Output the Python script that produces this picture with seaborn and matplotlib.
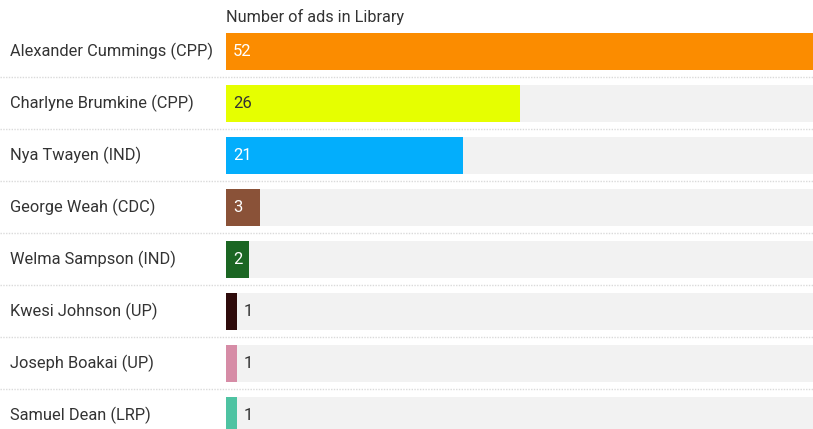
import numpy as np
import pandas as pd
import matplotlib
matplotlib.use('Agg')
import matplotlib.pyplot as plt
import seaborn as sns

# --------------------------------------------------
# Data
# --------------------------------------------------
candidates = ['Alexander Cummings (CPP)', 'Charlyne Brumkine (CPP)', 'Nya Twayen (IND)',
              'George Weah (CDC)', 'Welma Sampson (IND)', 'Kwesi Johnson (UP)',
              'Joseph Boakai (UP)', 'Samuel Dean (LRP)']
ads = [52, 26, 21, 3, 2, 1, 1, 1]
colors = ['#FB8C00', '#E6FF00', '#03AEFC', '#8A5238', '#1B6623', '#2E0B0B', '#D68CA6', '#4EC3A2']
label_colors = ['white', '#333333', 'white', 'white', 'white', '#333333', '#333333', '#333333']

df = pd.DataFrame({'candidate': candidates, 'ads': ads})
df['bg'] = max(ads)

sns.set_theme(style='white')
plt.rcParams['font.family'] = ['Roboto', 'DejaVu Sans']

W, H = 813, 429
fig = plt.figure(figsize=(W / 100, H / 100), dpi=100)
left = 226 / W
ax = fig.add_axes([left, 0, 1 - left, 1])

# background bars
sns.barplot(data=df, x='bg', y='candidate', color='#F2F2F2', width=0.71,
            saturation=1, ax=ax, orient='h', linewidth=0)
# value bars
sns.barplot(data=df, x='ads', y='candidate', hue='candidate', palette=colors,
            width=0.71, saturation=1, legend=False, ax=ax, orient='h', linewidth=0)

ax.set_xlim(0, max(ads))
# row centres at y = 51.5 + 52*i pixels
top = -51.5 / 52
bottom = (H - 51.5) / 52
ax.set_ylim(bottom, top)
ax.set_xlabel('')
ax.set_ylabel('')
ax.set_xticks([])
ax.set_yticks([])
sns.despine(ax=ax, left=True, bottom=True)

px = max(ads) / (W - 226)  # data units per pixel
for i, (v, c) in enumerate(zip(ads, label_colors)):
    xpos = 7 * px if v >= 2 else v + 6 * px
    ax.text(xpos, i, str(v), va='center', ha='left', fontsize=12, color=c)
    fig.text(10 / W, 1 - (51.5 + 52 * i) / H, candidates[i], va='center', ha='left',
             fontsize=11.8, color='#333333')

# dotted separators
for i in range(len(candidates) - 1):
    ax.axhline(i + 0.5, xmin=-left / (1 - left), xmax=1, color='#DADADA',
               linestyle=(0, (1, 1)), linewidth=1, clip_on=False)

fig.text(left, 1 - 17 / H, 'Number of ads in Library', va='center', ha='left',
         fontsize=11.7, color='#333333')

plt.savefig('out.png', dpi=100)
